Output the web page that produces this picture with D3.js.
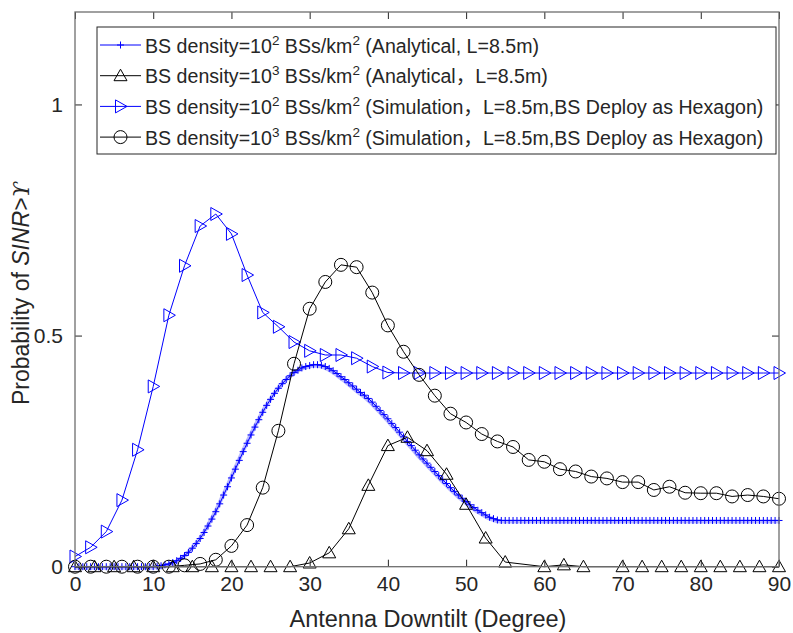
<!DOCTYPE html>
<html>
<head>
<meta charset="utf-8">
<script src="https://cdn.jsdelivr.net/npm/d3@7"></script>
<style>
  body { margin: 0; background: #fff; }
  svg text { font-family: "Liberation Sans", Arial, "Noto Sans CJK SC", sans-serif; fill: #262626; }
</style>
</head>
<body>
<div id="chart"></div>
<script>
const width = 793
const height = 633

// x ticks / y ticks
const xTicks = [0, 10, 20, 30, 40, 50, 60, 70, 80, 90]
const yTicks = [0, 0.5, 1]

// analytical, 10^2 BSs/km^2 : sampled every 0.5 degree
const anaLowX = d3.range(0, 90.01, 0.5)
const anaLowY = [
  0, 0, 0, 0, 0, 0, 0, 0, 0, 0, 0, 0, 0, 0, 0, 0, 0, 0, 0, 0,
  0, 0.001, 0.002, 0.004, 0.006, 0.009, 0.013, 0.018, 0.024, 0.031,
  0.040, 0.050, 0.061, 0.074, 0.088, 0.103, 0.119, 0.136, 0.155, 0.173,
  0.192, 0.211, 0.230, 0.249, 0.267, 0.285, 0.302, 0.318, 0.334, 0.349,
  0.362, 0.375, 0.386, 0.396, 0.405, 0.413, 0.420, 0.425, 0.430, 0.433,
  0.435, 0.437, 0.437, 0.436, 0.433, 0.429, 0.424, 0.418, 0.411, 0.405,
  0.398, 0.391, 0.384, 0.377, 0.371, 0.364, 0.356, 0.347, 0.338, 0.329,
  0.320, 0.310, 0.301, 0.291, 0.281, 0.271, 0.262, 0.252, 0.242, 0.233,
  0.224, 0.215, 0.206, 0.197, 0.188, 0.180, 0.171, 0.163, 0.155, 0.148,
  0.141, 0.134, 0.128, 0.122, 0.117, 0.112, 0.107, 0.104, 0.101, 0.100,
  0.1, 0.1, 0.1, 0.1, 0.1, 0.1, 0.1, 0.1, 0.1, 0.1, 0.1, 0.1, 0.1, 0.1, 0.1, 0.1, 0.1, 0.1, 0.1, 0.1,
  0.1, 0.1, 0.1, 0.1, 0.1, 0.1, 0.1, 0.1, 0.1, 0.1, 0.1, 0.1, 0.1, 0.1, 0.1, 0.1, 0.1, 0.1, 0.1, 0.1,
  0.1, 0.1, 0.1, 0.1, 0.1, 0.1, 0.1, 0.1, 0.1, 0.1, 0.1, 0.1, 0.1, 0.1, 0.1, 0.1, 0.1, 0.1, 0.1, 0.1,
  0.1, 0.1, 0.1, 0.1, 0.1, 0.1, 0.1, 0.1, 0.1, 0.1, 0.1
]

// analytical, 10^3 BSs/km^2
const anaHighX = [0, 2.5, 5, 7.5, 10, 12.5, 15, 17.5, 20, 22.5, 25, 27.5, 30, 32.5, 35, 37.5,
  40, 42.5, 45, 47.5, 50, 52.5, 55, 60, 62.5, 65, 70, 72.5, 75, 77.5, 80, 82.5, 85, 87.5, 90]
const anaHighY = [0, 0, 0, 0, 0, 0, 0, 0, 0, 0, 0, 0, 0.008, 0.030, 0.082, 0.176,
  0.262, 0.280, 0.251, 0.200, 0.135, 0.062, 0.010, 0, 0.004, 0, 0, 0, 0, 0, 0, 0, 0, 0, 0]

// simulation (hexagon), every 2 degrees
const simX = d3.range(0, 90.01, 2)
const simLowY = [0.022, 0.042, 0.076, 0.144, 0.253, 0.390, 0.544, 0.651, 0.737, 0.763,
  0.720, 0.631, 0.550, 0.519, 0.486, 0.467, 0.458, 0.458, 0.451, 0.433, 0.420,
  0.419, 0.419, 0.419, 0.419, 0.419, 0.419, 0.419, 0.419, 0.419, 0.419, 0.419, 0.419,
  0.419, 0.419, 0.419, 0.419, 0.419, 0.419, 0.419, 0.419, 0.419, 0.419, 0.419, 0.419, 0.419]
const simHighY = [0, 0, 0, 0, 0, 0, 0, 0.003, 0.006, 0.015, 0.045, 0.090, 0.171, 0.294,
  0.439, 0.558, 0.616, 0.653, 0.648, 0.593, 0.522, 0.465, 0.415, 0.370, 0.331, 0.312,
  0.287, 0.271, 0.259, 0.231, 0.227, 0.211, 0.206, 0.195, 0.191, 0.183, 0.183, 0.166,
  0.173, 0.160, 0.159, 0.159, 0.152, 0.155, 0.152, 0.147]

const legendItems = [
  { exp: '2', rest: ' (Analytical, L=8.5m)', color: '#0000ff', marker: 'plus' },
  { exp: '3', rest: ' (Analytical\uff0cL=8.5m)', color: '#000000', marker: 'up' },
  { exp: '2', rest: ' (Simulation\uff0cL=8.5m,BS Deploy as Hexagon)', color: '#0000ff', marker: 'right' },
  { exp: '3', rest: ' (Simulation\uff0cL=8.5m,BS Deploy as Hexagon)', color: '#000000', marker: 'circle' }
]

const margin = { left: 75, right: 14, top: 12, bottom: 66 }

const svg = d3.select('#chart').append('svg')
  .attr('width', width)
  .attr('height', height)

svg.append('rect').attr('width', width).attr('height', height).attr('fill', '#fff')

const x = d3.scaleLinear().domain([0, 90]).range([margin.left, width - margin.right])
const y = d3.scaleLinear().domain([0, 1.2]).range([height - margin.bottom - 0.3, margin.top])

// marker shapes
const markerPath = (type) => {
  if (type === 'plus') return 'M-3.5,0H3.5M0,-3.5V3.5'
  if (type === 'up') return 'M0,-6.5L6.5,5L-6.5,5Z'
  if (type === 'right') return 'M-5,-6.5L6.5,0L-5,6.5Z'
  return null
}

const drawMarkers = (g, xs, ys, type, color) => {
  const pts = xs.map((v, i) => [x(v), y(ys[i])])
  if (type === 'circle') {
    g.selectAll(null).data(pts).enter().append('circle')
      .attr('cx', d => d[0]).attr('cy', d => d[1]).attr('r', 6.5)
      .attr('fill', 'none').attr('stroke', color).attr('stroke-width', 1)
  } else {
    g.selectAll(null).data(pts).enter().append('path')
      .attr('transform', d => `translate(${d[0]},${d[1]})`)
      .attr('d', markerPath(type))
      .attr('fill', 'none').attr('stroke', color).attr('stroke-width', 1)
  }
}

const line = d3.line().x(d => x(d[0])).y(d => y(d[1]))
const plot = svg.append('g')

const series = [
  { xs: anaLowX, ys: anaLowY, color: '#0000ff', marker: 'plus' },
  { xs: anaHighX, ys: anaHighY, color: '#000000', marker: 'up' },
  { xs: simX, ys: simLowY, color: '#0000ff', marker: 'right' },
  { xs: simX, ys: simHighY, color: '#000000', marker: 'circle' }
]

series.forEach((s, k) => {
  const pts = s.xs.map((v, i) => [v, s.ys[i]])
  if (k === 0) {
    // soft blue fringe seen around the dense analytical markers
    plot.append('path').attr('d', line(pts)).attr('fill', 'none')
      .attr('stroke', '#7878ff').attr('stroke-opacity', 0.5).attr('stroke-width', 4)
      .attr('transform', 'translate(-1,1)')
  }
  plot.append('path').attr('d', line(pts)).attr('fill', 'none')
    .attr('stroke', s.color).attr('stroke-width', 1)
  drawMarkers(plot.append('g'), s.xs, s.ys, s.marker, s.color)
})

// axes
const axisColor = '#6e6e6e'

const gx = svg.append('g').attr('transform', `translate(0,${y(0)})`)
  .call(d3.axisBottom(x).tickValues(xTicks).tickSizeInner(-7).tickSizeOuter(0).tickPadding(9))
const gxTop = svg.append('g').attr('transform', `translate(0,${y(1.2)})`)
  .call(d3.axisTop(x).tickValues(xTicks).tickSizeInner(-7).tickSizeOuter(0).tickFormat(''))
const gy = svg.append('g').attr('transform', `translate(${x(0)},0)`)
  .call(d3.axisLeft(y).tickValues(yTicks).tickSizeInner(-7).tickSizeOuter(0).tickPadding(12)
    .tickFormat(d => d === 0 ? '0' : d3.format('~g')(d)))
const gyRight = svg.append('g').attr('transform', `translate(${x(90)},0)`)
  .call(d3.axisRight(y).tickValues(yTicks).tickSizeInner(-7).tickSizeOuter(0).tickFormat(''))

;[gx, gxTop, gy, gyRight].forEach(g => {
  g.select('.domain').remove()
  g.selectAll('.tick line').attr('stroke', '#262626')
  g.selectAll('.tick text').attr('font-size', 21).attr('fill', '#262626')
    .style('font-family', '"Liberation Sans", Arial, sans-serif')
})

svg.append('rect')
  .attr('x', x(0)).attr('y', y(1.2))
  .attr('width', x(90) - x(0)).attr('height', y(0) - y(1.2))
  .attr('fill', 'none').attr('stroke', axisColor).attr('stroke-width', 1.3)

// axis labels
svg.append('text')
  .attr('x', (x(0) + x(90)) / 2 + 1).attr('y', 627)
  .attr('text-anchor', 'middle').attr('font-size', 23.5)
  .text('Antenna Downtilt (Degree)')

const yl = svg.append('text')
  .attr('transform', `translate(29,${(y(0) + y(1.2)) / 2 + 4}) rotate(-90)`)
  .attr('text-anchor', 'middle').attr('font-size', 23)
yl.append('tspan').text('Probability of ')
yl.append('tspan').attr('font-style', 'italic').text('SINR')
yl.append('tspan').text('>')
yl.append('tspan').attr('font-style', 'italic').style('font-family', '"DejaVu Serif", serif').text('\u03d2')

// legend
const lg = svg.append('g')
lg.append('rect').attr('x', 97).attr('y', 27).attr('width', 679).attr('height', 127)
  .attr('fill', '#fff').attr('stroke', '#262626').attr('stroke-width', 1)

legendItems.forEach((d, i) => {
  const cy = 45 + i * 30.7
  lg.append('line').attr('x1', 100).attr('x2', 141).attr('y1', cy).attr('y2', cy)
    .attr('stroke', d.color).attr('stroke-width', 1)
  const mg = lg.append('g').attr('transform', `translate(120.5,${cy})`)
  if (d.marker === 'circle') {
    mg.append('circle').attr('r', 6.5).attr('fill', 'none').attr('stroke', d.color)
  } else {
    mg.append('path').attr('d', markerPath(d.marker)).attr('fill', 'none').attr('stroke', d.color)
  }
  const t = lg.append('text').attr('x', 145).attr('y', cy + 7.5).attr('font-size', 19.6)
  t.append('tspan').text('BS density=10')
  t.append('tspan').attr('font-size', 13.5).attr('dy', -8).text(d.exp)
  t.append('tspan').attr('dy', 8).text(' BSs/km')
  t.append('tspan').attr('font-size', 13.5).attr('dy', -8).text('2')
  t.append('tspan').attr('dy', 8).text(d.rest)
})
</script>
</body>
</html>
